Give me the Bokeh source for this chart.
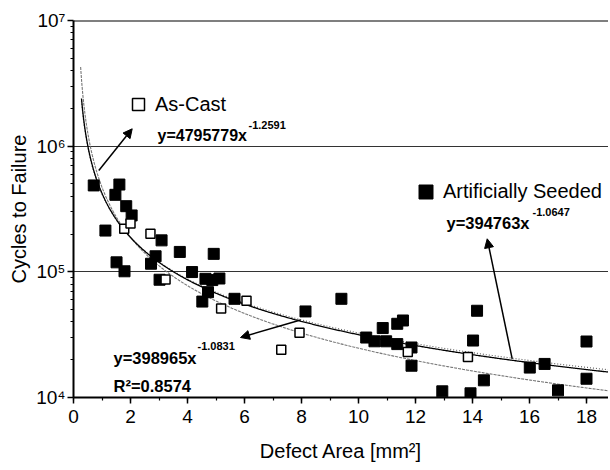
import numpy as np
from bokeh.plotting import figure
from bokeh.models import (Range1d, FixedTicker, CustomJSTickFormatter, Span, Label,
                          Arrow, NormalHead, Legend, LegendItem)
from bokeh.embed import file_html
from bokeh.resources import INLINE

# ---------------- data ----------------
seeded_area = [0.71, 1.12, 1.47, 1.61, 1.85, 2.04, 1.51, 1.79, 2.72, 2.88, 3.02, 3.09,
               3.73, 4.16, 4.52, 4.63, 4.72, 4.87, 4.92, 5.12, 5.65, 8.14, 9.40, 10.27,
               10.56, 10.85, 10.97, 11.36, 11.36, 11.56, 11.86, 11.86, 12.94, 13.93, 14.02,
               14.16, 14.40, 16.01, 16.53, 17.0, 18.0, 18.0]
seeded_cycles = [487000, 213000, 410000, 495000, 333000, 281000, 119000, 101000, 116000,
                 133000, 86500, 178000, 144000, 99600, 58000, 88000, 68900, 86000, 139000,
                 88500, 61000, 48400, 61000, 30000, 28000, 35700, 28000, 38600, 26600,
                 41000, 25000, 17900, 11200, 10800, 28400, 49000, 13700, 17300, 18500,
                 11400, 27900, 14100]

cast_area = [1.78, 2.00, 2.70, 3.23, 5.18, 6.07, 7.29, 7.93, 11.73, 13.84]
cast_cycles = [220000, 242000, 201000, 87000, 51000, 59000, 24000, 32700, 23000, 21000]

# power-law fit curves  y = a * (x - x0) ** (-b)
fit_x0 = 0.1
fit_all = (376000, 1.080)      # combined fit (solid)
fit_seeded = (372000, 1.062)   # artificially seeded fit (dotted)
fit_cast = (414000, 1.230)     # as-cast fit (grey)

x_ticks = [0, 2, 4, 6, 8, 10, 12, 14, 16, 18]
y_ticks = [1e4, 1e5, 1e6, 1e7]

# ---------------- layout helpers (page pixel -> data) ----------------
FL, FT, FB, FR = 73.0, 20.0, 397.0, 608.0
PX_PER_X = 28.5
PX_PER_DEC = (FB - FT) / 3.0
X_END = (FR - FL) / PX_PER_X


def dx(px):
    return (px - FL) / PX_PER_X


def dy(py):
    return 10 ** (7 - (py - FT) / PX_PER_DEC)


FONT = "Liberation Sans"

p = figure(width=608, height=470, x_range=Range1d(0, X_END), y_range=Range1d(1e4, 1e7),
           y_axis_type="log", output_backend="svg", toolbar_location=None,
           min_border_left=73, min_border_right=0, min_border_top=20, min_border_bottom=73)
p.outline_line_color = None
p.background_fill_color = "white"
p.border_fill_color = "white"

p.xgrid.visible = False
p.ygrid.ticker = FixedTicker(ticks=[1e5, 1e6])
p.ygrid.grid_line_color = "#333333"
p.ygrid.grid_line_width = 1

p.add_layout(Span(location=1e7, dimension="width", line_color="black", line_width=2))

p.xaxis.ticker = FixedTicker(ticks=x_ticks, minor_ticks=list(range(0, 19)))
p.yaxis.ticker = FixedTicker(ticks=y_ticks,
                             minor_ticks=[k * 10 ** d for d in (4, 5, 6) for k in range(2, 10)])
p.yaxis.formatter = CustomJSTickFormatter(code="""
const sup = {"0":"\u2070","1":"\u00b9","2":"\u00b2","3":"\u00b3","4":"\u2074","5":"\u2075","6":"\u2076","7":"\u2077","8":"\u2078","9":"\u2079"};
const e = Math.round(Math.log10(tick));
return "10" + String(e).split("").map(c => sup[c]).join("");
""")

for ax in (p.xaxis[0], p.yaxis[0]):
    ax.axis_line_width = 2
    ax.axis_line_color = "black"
    ax.major_tick_line_width = 1.5
    ax.major_tick_out = 6
    ax.major_tick_in = 0
    ax.minor_tick_out = 3
    ax.minor_tick_in = 0
    ax.minor_tick_line_width = 1.2
    ax.major_label_text_font = FONT
    ax.major_label_text_font_size = "19px"
    ax.major_label_text_color = "black"
    ax.axis_label_text_font = FONT
    ax.axis_label_text_font_size = "20px"
    ax.axis_label_text_font_style = "normal"
    ax.axis_label_text_color = "black"

p.xaxis.axis_label = "Defect Area [mm\u00b2]"
p.yaxis.axis_label = "Cycles to Failure"
p.xaxis.major_label_standoff = 6
p.xaxis.axis_label_standoff = 14
p.yaxis.major_label_standoff = 2
p.yaxis.axis_label_standoff = 3

# ---------------- fit curves ----------------
xs_fit = np.linspace(0.28, X_END, 500)
xs_cast = np.linspace(0.25, X_END, 500)
p.line(xs_cast, fit_cast[0] * (xs_cast - fit_x0) ** (-fit_cast[1]),
       line_color="#777777", line_width=1.1, line_dash="3 1")
p.line(xs_fit, fit_seeded[0] * (xs_fit - fit_x0) ** (-fit_seeded[1]),
       line_color="#666666", line_width=1.2, line_dash="1 2")
p.line(xs_fit, fit_all[0] * (xs_fit - fit_x0) ** (-fit_all[1]),
       line_color="black", line_width=1.3)

# ---------------- points ----------------
r_seed = p.scatter(seeded_area, seeded_cycles, marker="square", size=11,
                   fill_color="black", line_color="black")
r_cast = p.scatter(cast_area, cast_cycles, marker="square", size=9,
                   fill_color="white", line_color="black", line_width=1.5)

# ---------------- legends ----------------
leg_cast = Legend(items=[LegendItem(label="As-Cast", renderers=[r_cast])],
                  location=(50, 278), glyph_width=30, glyph_height=30, label_standoff=2)
leg_seed = Legend(items=[LegendItem(label="Artificially Seeded", renderers=[r_seed])],
                  location=(335, 188), glyph_width=35, glyph_height=35, label_standoff=0)
for lg in (leg_cast, leg_seed):
    lg.border_line_color = None
    lg.background_fill_alpha = 0
    lg.padding = 0
    lg.margin = 0
    lg.spacing = 0
    lg.label_text_font = FONT
    lg.label_text_font_size = "20px"
    lg.label_text_color = "black"
    p.add_layout(lg)

# ---------------- equations ----------------
def eq(px, py, text, size):
    p.add_layout(Label(x=dx(px), y=dy(py), text=text, text_font=FONT, text_font_size=size,
                       text_font_style="bold", text_color="black",
                       text_align="left", text_baseline="alphabetic"))


eq(157, 135, "y=4795779x", "16px")
eq(248, 124, "-1.2591", "11px")
eq(446, 222, "y=394763x", "16.5px")
eq(532, 211, "-1.0647", "11px")
eq(113, 357, "y=398965x", "16.5px")
eq(197, 345, "-1.0831", "11px")
eq(113, 385, "R\u00b2=0.8574", "16.5px")

# ---------------- arrows ----------------
arrows = [((98.3, 170.0), (131.7, 128.3)),
          ((300.0, 319.5), (240.0, 337.0)),
          ((511.7, 358.3), (486.7, 238.3))]
for (sx, sy), (ex, ey) in arrows:
    p.add_layout(Arrow(x_start=dx(sx), y_start=dy(sy), x_end=dx(ex), y_end=dy(ey),
                       line_color="black", line_width=1.5,
                       end=NormalHead(size=9, fill_color="black", line_color="black")))

open("out.html", "w").write(file_html(p, INLINE))
